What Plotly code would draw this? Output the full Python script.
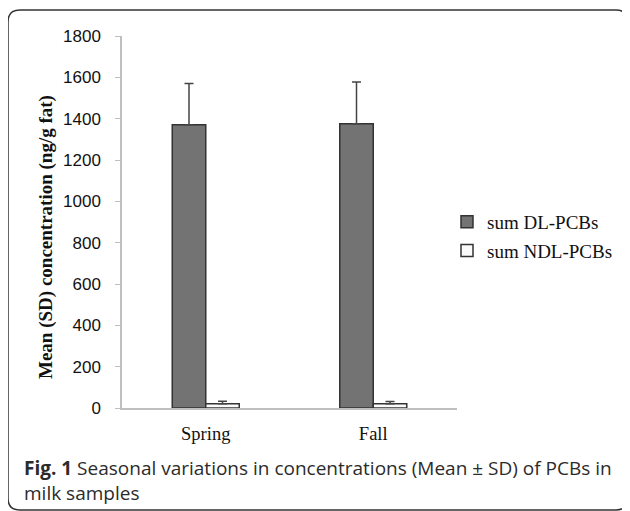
import plotly.graph_objects as go

# ---- data ----
categories = ["Spring", "Fall"]
dl_mean = [1370, 1375]
dl_sd = [200, 203]
ndl_mean = [20, 20]
ndl_sd = [13, 12]
y_ticks = [0, 200, 400, 600, 800, 1000, 1200, 1400, 1600, 1800]

OFF = 8  # page body margin offset
W, H = 630 - OFF, 511 - OFF
PL, PR, PT, PB = 122 - OFF, 457 - OFF, 36 - OFF, 408 - OFF  # plot area in figure pixels


def px_x(px):
    return (px - OFF - PL) / (PR - PL)


def px_y(py):
    return (PB - (py - OFF)) / (PB - PT)


fig = go.Figure()
fig.add_trace(go.Bar(
    x=categories, y=dl_mean, name="sum DL-PCBs", legendgroup="a",
    marker=dict(color="#737373", line=dict(color="#333333", width=1.5)),
    error_y=dict(type="data", array=dl_sd, symmetric=False, arrayminus=[0, 0],
                 color="#444444", thickness=1.5, width=4.5),
))
fig.add_trace(go.Bar(
    x=categories, y=ndl_mean, name="sum NDL-PCBs", legendgroup="b",
    marker=dict(color="#fafafa", line=dict(color="#333333", width=1.5)),
    error_y=dict(type="data", array=ndl_sd, symmetric=False, arrayminus=[0, 0],
                 color="#444444", thickness=1.5, width=4.5),
))

# rounded border box (screen pixel coords)
x0, x1, yt, yb, r = 8, 628, 10, 510, 12
pts = [
    ("M", x0 + r, yt), ("L", x1 - r, yt), ("Q", x1, yt, x1, yt + r),
    ("L", x1, yb - r), ("Q", x1, yb, x1 - r, yb), ("L", x0 + r, yb),
    ("Q", x0, yb, x0, yb - r), ("L", x0, yt + r), ("Q", x0, yt, x0 + r, yt),
]
path = ""
for p in pts:
    cmd = p[0]
    coords = p[1:]
    s = []
    for i in range(0, len(coords), 2):
        s.append(f"{px_x(coords[i]):.5f},{px_y(coords[i+1]):.5f}")
    path += cmd + " " + " ".join(s) + " "
path += "Z"
fig.add_shape(type="path", path=path, xref="paper", yref="paper",
              line=dict(color="#333333", width=1.5), layer="above")

# y-axis title
fig.add_annotation(
    text="<b>Mean (SD) concentration (ng/g fat)</b>", textangle=-90,
    x=px_x(46), y=px_y(237), xref="paper", yref="paper", showarrow=False,
    xanchor="center", yanchor="middle",
    font=dict(family="Liberation Serif", size=19, color="#111111"),
)

# caption
fig.add_annotation(
    text="<b>Fig. 1</b> Seasonal variations in concentrations (Mean ± SD) of PCBs in",
    x=px_x(22), y=px_y(468), xref="paper", yref="paper", showarrow=False,
    xanchor="left", yanchor="middle",
    font=dict(family="Open Sans", size=19, color="#2b2b2b"),
)
fig.add_annotation(
    text="milk samples",
    x=px_x(22), y=px_y(493), xref="paper", yref="paper", showarrow=False,
    xanchor="left", yanchor="middle",
    font=dict(family="Open Sans", size=19, color="#2b2b2b"),
)

fig.update_layout(
    width=W, height=H,
    margin=dict(l=PL, r=W - PR, t=PT, b=H - PB, pad=0),
    paper_bgcolor="white", plot_bgcolor="white",
    barmode="group", bargap=0.6, bargroupgap=0,
    showlegend=True,
    legend=dict(x=px_x(447), y=px_y(203), xanchor="left", yanchor="top",
                font=dict(family="Liberation Serif", size=19, color="#111111"),
                bgcolor="rgba(0,0,0,0)", itemwidth=30,
                traceorder="grouped", tracegroupgap=1),
    xaxis=dict(range=[-0.5, 1.5], showline=True, linecolor="#bfbfbf", linewidth=1.5,
               ticks="", showgrid=False, zeroline=False,
               tickfont=dict(family="Liberation Serif", size=18.5, color="#111111"),
               ticklabelstandoff=8),
    yaxis=dict(range=[0, 1800], tickvals=y_ticks, showline=True, linecolor="#bfbfbf",
               linewidth=1.5, ticks="outside", ticklen=5, tickcolor="#bfbfbf",
               showgrid=False, zeroline=False,
               tickfont=dict(family="Liberation Sans", size=17, color="#111111"),
               ticklabelstandoff=11),
)

fig.write_html("out.html")
